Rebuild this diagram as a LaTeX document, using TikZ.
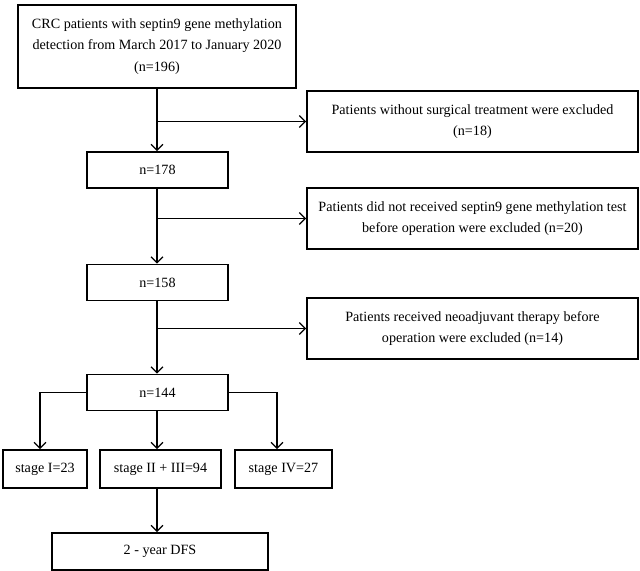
\documentclass[tikz,border=0pt]{standalone}
\usepackage{fontspec}
\setmainfont{Liberation Serif}
\usetikzlibrary{arrows.meta}
\tikzset{
  box/.style={draw, line width=1.3pt, align=center, inner sep=0pt,
    font=\fontsize{10.6pt}{16pt}\selectfont},
  link/.style={line width=0.9pt, -{Straight Barb[length=4.5pt,width=9pt]}}
}

\begin{document}
\begin{tikzpicture}[x=0.75pt,y=-0.75pt]
\useasboundingbox (0,0) rectangle (640,571);
% main column
\node[box, minimum width=208.5pt, minimum height=62.25pt] (start) at (157,46.5)
  {CRC patients with septin9 gene methylation\\detection from March 2017 to January 2020\\(n=196)};
\node[box, minimum width=105.75pt, minimum height=27pt] (n178) at (157.5,170) {n=178};
\node[box, minimum width=105.75pt, minimum height=27pt] (n158) at (157.5,282.5) {n=158};
\node[box, minimum width=105.75pt, minimum height=27pt] (n144) at (157.5,392.5) {n=144};

% exclusions
\node[box, minimum width=248.25pt, minimum height=45.75pt] (ex1) at (472.5,121.5)
  {Patients without surgical treatment were excluded\\(n=18)};
\node[box, minimum width=248.25pt, minimum height=45.75pt] (ex2) at (472.5,218.5)
  {Patients did not received septin9 gene methylation test\\before operation were excluded (n=20)};
\node[box, minimum width=248.25pt, minimum height=45.75pt] (ex3) at (472.5,328.5)
  {Patients received neoadjuvant therapy before\\operation were excluded (n=14)};

% stages
\node[box, minimum width=63pt, minimum height=28.5pt] (s1) at (45,469) {stage I=23};
\node[box, minimum width=90.75pt, minimum height=28.5pt] (s2) at (160.5,469) {stage II + III=94};
\node[box, minimum width=72.75pt, minimum height=28.5pt] (s3) at (283.5,469) {stage IV=27};
\node[box, minimum width=162pt, minimum height=27.75pt] (dfs) at (160,551.5) {2 - year DFS};

% branch points
\coordinate (j1) at (157,121.5);
\coordinate (j2) at (157,218.5);
\coordinate (j3) at (157,328.5);
\coordinate (k1) at (40,392.5);
\coordinate (k3) at (277,392.5);

\draw[link] (start.south) -- (start.south |- n178.north);
\draw[link] (j1) -- (j1 -| ex1.west);
\draw[link] (j1 |- n178.south) -- (j1 |- n158.north);
\draw[link] (j2) -- (j2 -| ex2.west);
\draw[link] (j1 |- n158.south) -- (j1 |- n144.north);
\draw[link] (j3) -- (j3 -| ex3.west);

\draw[link] (n144.west) -- (k1) -- (k1 |- s1.north);
\draw[link] (n144.east) -- (k3) -- (k3 |- s3.north);
\draw[link] (j1 |- n144.south) -- (j1 |- s2.north);
\draw[link] (j1 |- s2.south) -- (j1 |- dfs.north);
\end{tikzpicture}
\end{document}
